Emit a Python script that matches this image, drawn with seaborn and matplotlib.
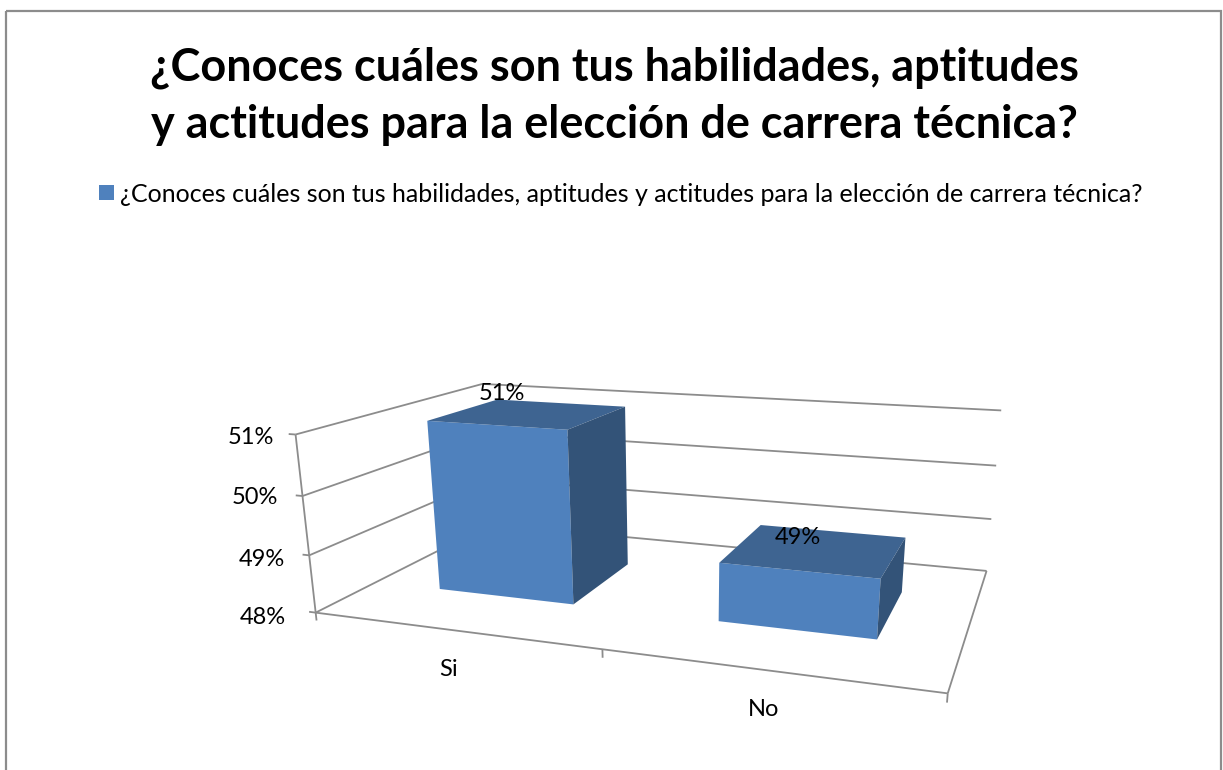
import numpy as np
import matplotlib
matplotlib.use("Agg")
import matplotlib.pyplot as plt
from matplotlib.patches import Polygon, Rectangle
from matplotlib.transforms import Transform, Affine2D
import seaborn as sns

TITLE = "¿Conoces cuáles son tus habilidades, aptitudes\ny actitudes para la elección de carrera técnica?"
SERIES = "¿Conoces cuáles son tus habilidades, aptitudes y actitudes para la elección de carrera técnica?"
categories = ["Si", "No"]
values = [51, 49]
value_ticks = [48, 49, 50, 51]
tick_labels = ["48%", "49%", "50%", "51%"]

W, H = 1223, 770
BLUE, TOP, SIDE, GRID = "#4F81BD", "#3E6491", "#335378", "#8C8C8C"
BAR_WIDTH, W0, W1 = 0.5, 0.295, 0.705

sns.set_theme(style="white")
plt.rcParams["font.family"] = ["Lato", "DejaVu Sans"]

# camera calibration: (category position, value, depth) -> image pixel
box = [(-.5, 48, 0, 312, 613), (1.5, 48, 0, 947, 695), (-.5, 51, 0, 298, 434),
       (-.5, 48, 1, 495, 523), (1.5, 48, 1, 988, 571), (-.5, 51, 1, 477, 385), (1.5, 51, 1, 1000, 410),
       (-.25, 48, W0, 438.7, 589), (.25, 48, W0, 572.7, 604.3), (.25, 48, W1, 626.7, 565),
       (-.25, 51, W0, 431, 420), (.25, 51, W0, 569.3, 429), (.25, 51, W1, 626, 406.7), (-.25, 51, W1, 496.7, 401),
       (.75, 48, W0, 718.3, 621.7), (1.25, 48, W0, 877.3, 639.3), (1.25, 48, W1, 902.3, 592),
       (.75, 49, W0, 719.3, 562.3), (1.25, 49, W0, 880, 577.7), (1.25, 49, W1, 905, 537.7), (.75, 49, W1, 761, 525)]
A, B = [], []
for x, v, d, px, py in box:
    A.append([x, v, d, 1, 0, 0, 0, 0, -px * x, -px * v, -px * d]); B.append(px)
    A.append([0, 0, 0, 0, x, v, d, 1, -py * x, -py * v, -py * d]); B.append(py)
cam = np.append(np.linalg.lstsq(np.array(A, float), np.array(B, float), rcond=None)[0], 1).reshape(3, 4)


def project(x, v, d):
    h = cam @ np.array([x, v, d, 1.0])
    return h[0] / h[2], h[1] / h[2]


class Persp(Transform):
    input_dims = output_dims = 2
    is_separable = False

    def __init__(self, plane):
        super().__init__()
        self.plane = plane

    def transform_non_affine(self, xy):
        xy = np.asarray(xy, float)
        h = cam @ np.c_[xy[:, 0], xy[:, 1], np.full(len(xy), self.plane), np.ones(len(xy))].T
        return np.c_[h[0] / h[2], H - h[1] / h[2]]


pix = Affine2D().scale(1, -1).translate(0, H)
fig = plt.figure(figsize=(W / 100, H / 100), dpi=100)
ax = fig.add_axes([0, 0, 1, 1])


def seg(p, q, lw=1.3):
    a, b = project(*p), project(*q)
    ax.plot([a[0], b[0]], [a[1], b[1]], color=GRID, lw=lw, transform=pix, clip_on=False, solid_capstyle="butt")


for v in value_ticks:
    seg((-.5, v, 0), (-.5, v, 1))
    seg((-.5, v, 1), (1.5, v, 1))
    seg((-.5, v, 0), (-.525, v, 0))
seg((-.5, 48, 0), (-.5, 51, 0))
seg((-.5, 48, 0), (1.5, 48, 0))
seg((1.5, 48, 0), (1.5, 48, 1))
for x in (-.5, .5, 1.5):
    seg((x, 48, 0), (x, 47.86, 0))

sns.barplot(x=categories, y=values, color=BLUE, width=BAR_WIDTH, saturation=1, ax=ax, zorder=3)
front = Persp(W0)
for bar, val in zip(ax.patches, values):
    bar.set_y(value_ticks[0])
    bar.set_height(val - value_ticks[0])
    bar.set_transform(front)
    bar.set_clip_on(False)
    bar.set_linewidth(0)
    x0, x1 = bar.get_x(), bar.get_x() + bar.get_width()
    ax.add_patch(Polygon([project(x0, val, W0), project(x1, val, W0), project(x1, val, W1), project(x0, val, W1)],
                         closed=True, fc=TOP, ec="none", transform=pix, zorder=3, clip_on=False))
    ax.add_patch(Polygon([project(x1, 48, W0), project(x1, val, W0), project(x1, val, W1), project(x1, 48, W1)],
                         closed=True, fc=SIDE, ec="none", transform=pix, zorder=3, clip_on=False))

ax.set_xlim(-.5, 1.5)
ax.set_ylim(48, 51)
ax.axis("off")

# frame, open at the bottom where the picture cuts it
ax.add_patch(Rectangle((5.5, 10.5), 1215.5, 800, fc="none", ec=GRID, lw=1.6, transform=pix, clip_on=True, zorder=1))


def txt(x, y, s, size, **kw):
    fig.text(x / W, 1 - y / H, s, fontsize=size, color="black", va=kw.pop("va", "center"), ha=kw.pop("ha", "center"), zorder=6, **kw)


txt(614, 96, TITLE, 32.4, fontweight="bold", linespacing=1.45)
ax.add_patch(Rectangle((99, 185), 15, 15, fc=BLUE, ec="none", transform=pix))
txt(120, 195, SERIES, 18, ha="left")
for lab, yy, xr in zip(tick_labels, [618, 559, 498, 437], [286, 285, 278, 274]):
    txt(xr, yy, lab, 17, ha="right")
txt(449, 670, categories[0], 17)
txt(764, 710, categories[1], 17)
txt(502, 394, f"{values[0]}%", 17)
txt(798, 537, f"{values[1]}%", 17)

fig.savefig("out.png", dpi=100)
